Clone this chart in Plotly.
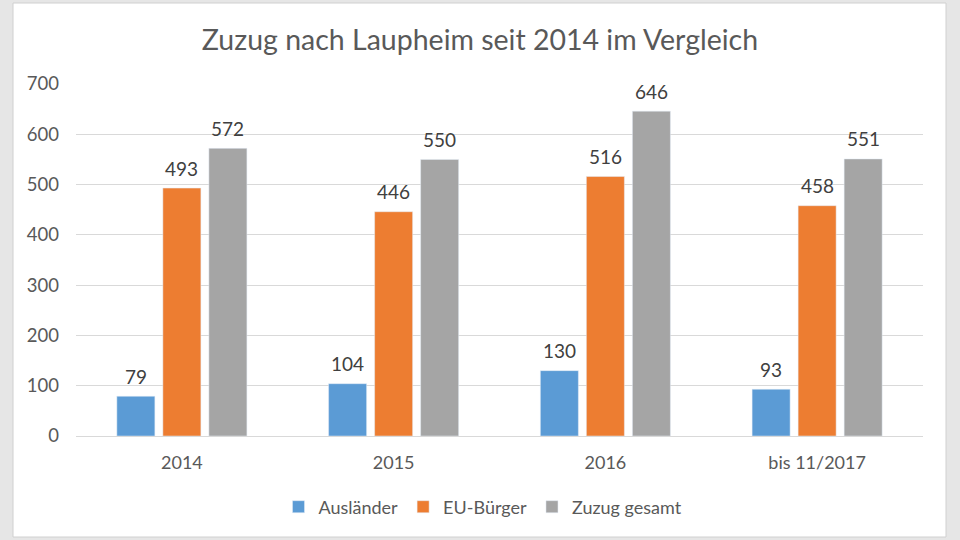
import plotly.graph_objects as go

categories = ["2014", "2015", "2016", "bis 11/2017"]
auslaender = [79, 104, 130, 93]
eu_buerger = [493, 446, 516, 458]
zuzug_gesamt = [572, 550, 646, 551]
y_ticks = [0, 100, 200, 300, 400, 500, 600, 700]

FONT = "Lato"
TXT = "#595959"

series = [("Ausländer", auslaender, "#5B9BD5"),
          ("EU-Bürger", eu_buerger, "#ED7D31"),
          ("Zuzug gesamt", zuzug_gesamt, "#A5A5A5")]

fig = go.Figure()
for name, vals, col in series:
    fig.add_trace(go.Bar(name=name, x=categories, y=vals, marker_color=col))

L, R, T, B = 76, 37, 84, 104
W, H = 960 - L - R, 540 - T - B
slot = 46  # pixel distance between bar centres within a group

for i, (name, vals, col) in enumerate(series):
    for ci, v in enumerate(vals):
        fig.add_annotation(x=ci, y=v, text=str(v), showarrow=False,
                           xshift=(i - 1) * slot, yshift=20, yanchor="middle",
                           font=dict(family=FONT, size=19, color="#404040"))

fig.add_shape(type="rect", xref="paper", yref="paper", layer="below",
              x0=(13 - L) / W, x1=(946 - L) / W,
              y0=(540 - B - 537) / H, y1=(540 - B - 3) / H,
              fillcolor="white", line=dict(color="#d0d0d0", width=1))

fig.update_layout(
    width=960, height=540,
    margin=dict(l=L, r=R, t=T, b=B),
    paper_bgcolor="#e6e6e6", plot_bgcolor="white",
    barmode="group", bargap=0.348, bargroupgap=0.174,
    title=dict(text="Zuzug nach Laupheim seit 2014 im Vergleich",
               x=0.5, xanchor="center", y=(540 - 40) / 540, yanchor="middle",
               font=dict(family=FONT, size=28.5, color=TXT)),
    font=dict(family=FONT, size=18, color=TXT),
    xaxis=dict(type="category", categoryorder="array", categoryarray=categories,
               range=[-0.5, len(categories) - 0.5],
               showgrid=False, showline=True, linecolor="#d9d9d9", linewidth=1,
               ticks="", ticklabelstandoff=10,
               tickfont=dict(family=FONT, size=18, color=TXT)),
    yaxis=dict(range=[0, 700], tickvals=y_ticks, showgrid=True, gridcolor="#d9d9d9",
               zeroline=False, ticks="", ticklabelstandoff=16,
               tickfont=dict(family=FONT, size=18.5, color=TXT)),
    legend=dict(orientation="h", x=(483 - L) / W, xanchor="center",
                y=(540 - B - 507) / H, yanchor="middle",
                font=dict(family=FONT, size=18, color=TXT),
                bgcolor="rgba(0,0,0,0)", itemwidth=30, traceorder="normal"),
    showlegend=True,
)

fig.write_html("out.html", config={"displayModeBar": False},
               post_script="document.body.style.margin='0';")
